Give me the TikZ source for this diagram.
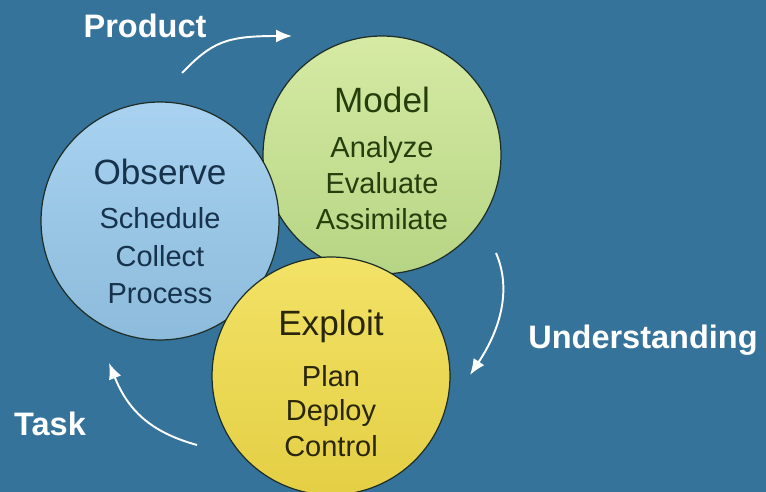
\documentclass[tikz,border=0pt]{standalone}
\usepackage{fontspec}
\setmainfont{Liberation Sans}
\usetikzlibrary{arrows.meta}
\definecolor{bg}{HTML}{36739A}
\definecolor{obsfill}{HTML}{A8D2F0}
\definecolor{obsdark}{HTML}{8DBBDB}
\definecolor{mdlfill}{HTML}{D6EAA4}
\definecolor{mdldark}{HTML}{B6D584}
\definecolor{expfill}{HTML}{F2E266}
\definecolor{expdark}{HTML}{E4CF44}
\definecolor{obstext}{HTML}{16324C}
\definecolor{mdltext}{HTML}{263E0C}
\definecolor{exptext}{HTML}{2A260A}
\definecolor{rim}{HTML}{1E2E28}
\tikzset{
  ball/.style = {circle, draw=rim, line width=0.7pt, inner sep=0pt,
    minimum size=4.76cm},
  head/.style = {font=\fontsize{20}{24}\selectfont, text height=14.4pt, text depth=0pt},
  item/.style = {font=\fontsize{16.5}{20}\selectfont, text height=11.9pt, text depth=0pt},
  stage/.style = {white, font=\bfseries\fontsize{18.5}{22}\selectfont,
    text height=13.3pt, text depth=0pt},
  flow/.style = {white, line width=1.1pt, -{Latex[length=0.32cm,width=0.26cm]}}
}

\begin{document}
\begin{tikzpicture}[x=0.02cm,y=-0.02cm]
  \useasboundingbox[fill=bg] (0,0) rectangle (766,492);
  % model
  \node[ball, top color=mdlfill, bottom color=mdldark] (mdl) at (382,155) {};
  \node[head, mdltext] at (382,100) {Model};
  \node[item, mdltext] at (382,147) {Analyze};
  \node[item, mdltext] at (382,183) {Evaluate};
  \node[item, mdltext] at (382,219) {Assimilate};
  % observe
  \node[ball, top color=obsfill, bottom color=obsdark] (obs) at (160,221) {};
  \node[head, obstext] at (160,172) {Observe};
  \node[item, obstext] at (160,218) {Schedule};
  \node[item, obstext] at (160,256) {Collect};
  \node[item, obstext] at (160,293) {Process};
  % exploit
  \node[ball, top color=expfill, bottom color=expdark] (exp) at (331,376) {};
  \node[head, exptext] at (331,323) {Exploit};
  \node[item, exptext] at (331,376) {Plan};
  \node[item, exptext] at (331,410) {Deploy};
  \node[item, exptext] at (331,446) {Control};
  %
  \node[stage] (product) at (145,26) {Product};
  \node[stage] (understanding) at (643,337) {Understanding};
  \node[stage] (task) at (50,424) {Task};
  \coordinate (p1) at (182,73);
  \coordinate (p2) at (292,36);
  \coordinate (u1) at (496,253);
  \coordinate (u2) at (470,375);
  \coordinate (t1) at (197,445);
  \coordinate (t2) at (109,363);
  \draw[flow] (p1) .. controls (212,42) and (226,36) .. (p2);
  \draw[flow] (u1) .. controls (512,290) and (500,330) .. (u2);
  \draw[flow] (t1) .. controls (150,432) and (128,410) .. (t2);
\end{tikzpicture}
\end{document}
